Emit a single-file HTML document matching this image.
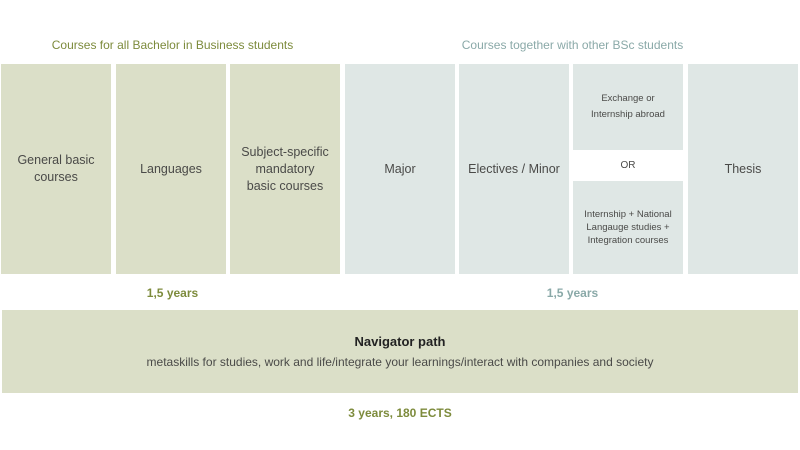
<!DOCTYPE html>
<html><head><style>
body{margin:0;width:800px;height:450px;background:#fff;position:relative;font-family:"Liberation Sans",sans-serif;overflow:hidden}
.b{position:absolute;display:flex;align-items:center;justify-content:center;text-align:center;color:#4a4a48;font-size:12.5px;line-height:17px}
.g{background:#dbdfc8}.c{background:#dfe7e5}
.t{position:absolute;font-size:12.5px;text-align:center}
</style></head><body>
<div class="t" style="left:0;width:345px;top:38px;color:#7d8b3c;font-size:12px">Courses for all Bachelor in Business students</div>
<div class="t" style="left:345px;width:455px;top:38px;color:#8aa9a8;font-size:12px">Courses together with other BSc students</div>
<div class="b g" style="left:1px;top:64px;width:110px;height:210px">General basic<br>courses</div>
<div class="b g" style="left:116px;top:64px;width:110px;height:210px">Languages</div>
<div class="b g" style="left:230px;top:64px;width:110px;height:210px">Subject-specific<br>mandatory<br>basic courses</div>
<div class="b c" style="left:345px;top:64px;width:110px;height:210px">Major</div>
<div class="b c" style="left:459px;top:64px;width:110px;height:210px">Electives / Minor</div>
<div class="b c" style="left:573px;top:64px;width:110px;height:86px;font-size:9.5px;line-height:16px">Exchange or<br>Internship abroad</div>
<div class="b" style="left:573px;top:150px;width:110px;height:31px;font-size:10px">OR</div>
<div class="b c" style="left:573px;top:181px;width:110px;height:93px;font-size:9.5px;line-height:13px">Internship + National<br>Langauge studies +<br>Integration courses</div>
<div class="b c" style="left:688px;top:64px;width:110px;height:210px">Thesis</div>
<div class="t" style="left:0;width:345px;top:286px;color:#7d8b3c;font-weight:bold;font-size:12px">1,5 years</div>
<div class="t" style="left:345px;width:455px;top:286px;color:#8aa9a8;font-weight:bold;font-size:12px">1,5 years</div>
<div class="b g" style="left:2px;top:310px;width:796px;height:83px;flex-direction:column;line-height:20px"><span style="color:#222;font-size:13px;font-weight:bold">Navigator path</span><span style="font-size:12px">metaskills for studies, work and life/integrate your learnings/interact with companies and society</span></div>
<div class="t" style="left:0;width:800px;top:406px;color:#7d8b3c;font-weight:bold;font-size:12px">3 years, 180 ECTS</div>
</body></html>
